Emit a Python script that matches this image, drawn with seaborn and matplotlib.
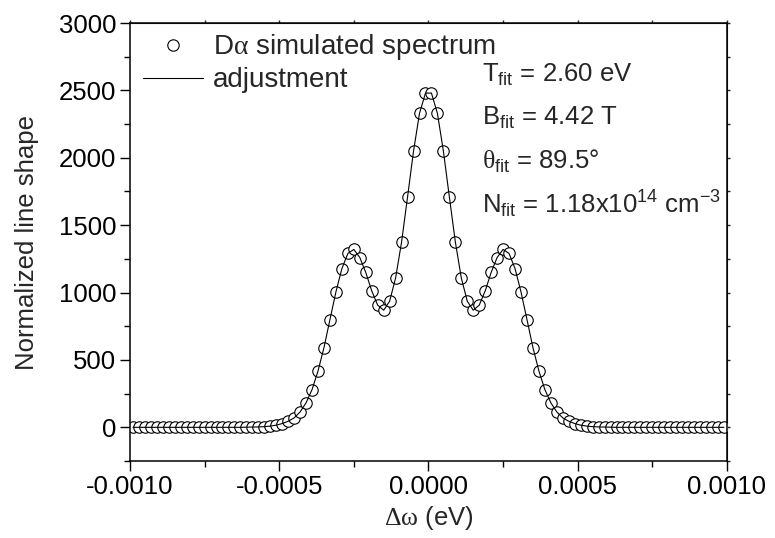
import numpy as np
import pandas as pd
import matplotlib
matplotlib.use("Agg")
import matplotlib.pyplot as plt
from matplotlib.ticker import AutoMinorLocator
from matplotlib.lines import Line2D
import seaborn as sns

# data (x grid every 2e-5 eV, centred on 0)
delta_w = np.linspace(-0.00099, 0.00099, 100)
shape_left = [0, 0, 0, 0, 0, 0, 0, 0, 0, 0,
              0, 0, 0, 0, 0, 0, 0, 0, 0, 1,
              2, 3, 5, 9, 16, 28, 45, 70, 114, 182,
              280, 418, 592, 800, 1005, 1178, 1290, 1320, 1260, 1149,
              1012, 906, 869, 936, 1109, 1376, 1710, 2050, 2330, 2480]
shape_right = [2480, 2330, 2050, 1710, 1376, 1109, 936, 869, 906, 1012,
               1149, 1260, 1320, 1290, 1178, 1005, 800, 592, 418, 280,
               182, 114, 70, 45, 28, 16, 9, 5, 3, 2,
               1, 0, 0, 0, 0, 0, 0, 0, 0, 0,
               0, 0, 0, 0, 0, 0, 0, 0, 0, 0]
x_ticks = [-0.001, -0.0005, 0.0, 0.0005, 0.001]
x_ticklabels = ["-0.0010", "-0.0005", "0.0000", "0.0005", "0.0010"]
y_ticks = [0, 500, 1000, 1500, 2000, 2500, 3000]
fit_lines = [r"T$_{\mathsf{fit}}$ = 2.60 eV",
             r"B$_{\mathsf{fit}}$ = 4.42 T",
             r"$\mathrm{\theta}_{\mathsf{fit}}$ = 89.5°",
             r"N$_{\mathsf{fit}}$ = 1.18x10$^{\mathsf{14}}$ cm$^{\mathsf{-3}}$"]

df = pd.DataFrame({"dw": delta_w, "shape": shape_left + shape_right})

FS = 18.5

sns.set_style("ticks")
plt.rcParams["font.family"] = ["Liberation Sans", "DejaVu Sans"]
plt.rcParams["mathtext.fontset"] = "custom"
plt.rcParams["mathtext.rm"] = "Liberation Serif"
plt.rcParams["mathtext.sf"] = "Liberation Sans"
plt.rcParams["mathtext.it"] = "Liberation Sans:italic"

fig = plt.figure(figsize=(7.75, 5.38), dpi=100)
ax = fig.add_axes([0.1677, 0.1431, 0.7703, 0.8141])

# simulated points (white filled circles) and the fit line on top
sns.scatterplot(data=df, x="dw", y="shape", ax=ax, marker="o", s=68,
                facecolor="white", edgecolor="black", linewidth=0.8,
                zorder=2)
sns.lineplot(data=df, x="dw", y="shape", ax=ax, color="black",
             linewidth=0.8, zorder=3)

ax.set_xlim(-0.001, 0.001)
ax.set_ylim(-250, 3000)
ax.set_xticks(x_ticks)
ax.set_xticklabels(x_ticklabels)
ax.set_yticks(y_ticks)
ax.xaxis.set_minor_locator(AutoMinorLocator(2))
ax.yaxis.set_minor_locator(AutoMinorLocator(2))
ax.tick_params(which="both", direction="out", labelsize=FS, width=1.0,
               color="black", labelcolor="black")
ax.tick_params(which="major", length=7, pad=3)
ax.tick_params(which="minor", length=4)
for sp in ax.spines.values():
    sp.set_linewidth(1.1)
    sp.set_color("black")

# tiny mirrored ticks on top and right
top = ax.secondary_xaxis("top")
top.set_xticks(x_ticks)
top.xaxis.set_minor_locator(AutoMinorLocator(2))
top.tick_params(which="both", direction="out", length=2, width=1.0,
                labeltop=False)
right = ax.secondary_yaxis("right")
right.set_yticks(y_ticks)
right.yaxis.set_minor_locator(AutoMinorLocator(2))
right.tick_params(which="both", direction="out", length=2, width=1.0,
                  labelright=False)

ax.set_xlabel(r"$\mathrm{\Delta\omega}$ (eV)", fontsize=FS, labelpad=4)
ax.set_ylabel("Normalized line shape", fontsize=FS, labelpad=14)

handles = [Line2D([], [], marker="o", linestyle="none", markersize=8.2,
                  markerfacecolor="white", markeredgecolor="black",
                  markeredgewidth=0.8),
           Line2D([], [], color="black", linewidth=0.8)]
labels = [r"D$\mathrm{\alpha}$ simulated spectrum", "adjustment"]
ax.legend(handles, labels, loc="upper left", bbox_to_anchor=(0.022, 0.979),
          frameon=False, fontsize=20, handlelength=2.15, handletextpad=0.36,
          labelspacing=0.18, borderaxespad=0.0, borderpad=0.0, numpoints=1)

# fit parameters
for i, txt in enumerate(fit_lines):
    ax.text(0.59, 0.881 - i * 0.098, txt, transform=ax.transAxes,
            fontsize=FS, va="center", ha="left")

fig.savefig("out.png", dpi=100)
